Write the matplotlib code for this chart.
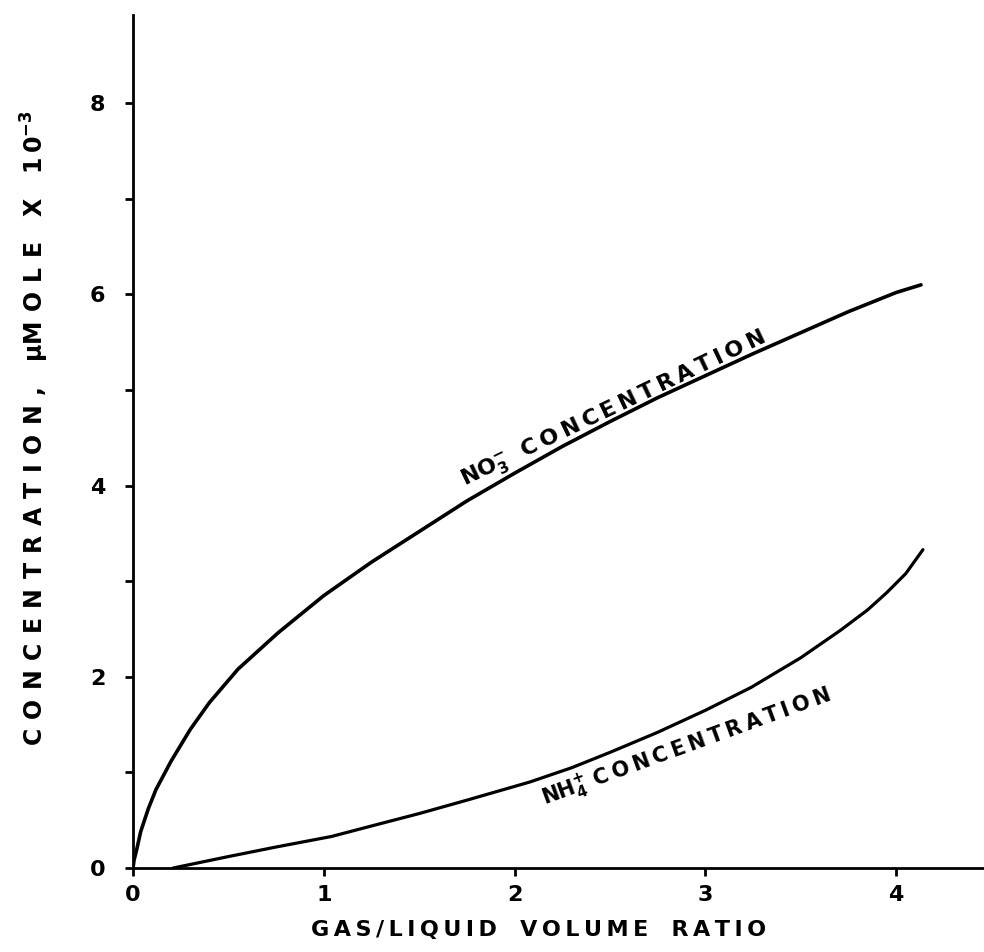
import matplotlib.pyplot as plt

plt.rcParams['font.family'] = 'DejaVu Sans'
plt.rcParams['font.weight'] = 'bold'
plt.rcParams['mathtext.default'] = 'bf'

# curvas
no3_x = [0, 0.005, 0.02, 0.04, 0.08, 0.12, 0.2, 0.3, 0.4, 0.55, 0.76, 1.0, 1.25,
         1.5, 1.75, 2.0, 2.25, 2.5, 2.75, 3.0, 3.25, 3.5, 3.75, 4.0, 4.13]
no3_y = [0, 0.08, 0.2, 0.38, 0.62, 0.82, 1.12, 1.45, 1.73, 2.08, 2.46, 2.85, 3.2,
         3.52, 3.84, 4.13, 4.41, 4.67, 4.92, 5.15, 5.38, 5.6, 5.82, 6.02, 6.1]

nh4_x = [0.21, 0.5, 0.75, 1.04, 1.25, 1.5, 1.75, 2.08, 2.3, 2.5, 2.75, 3.0,
         3.24, 3.5, 3.71, 3.85, 3.95, 4.05, 4.14]
nh4_y = [0, 0.12, 0.22, 0.33, 0.44, 0.57, 0.71, 0.90, 1.05, 1.21, 1.42, 1.65,
         1.89, 2.2, 2.49, 2.7, 2.88, 3.08, 3.33]

x_ticks = [0, 1, 2, 3, 4]
y_ticks = [0, 1, 2, 3, 4, 5, 6, 7, 8]
y_labels = ['0', '', '2', '', '4', '', '6', '', '8']


def espaciar(s, n=1):
    # letras separadas como en el rotulado original
    return ('\u2009' * n).join(s)


fig = plt.figure(figsize=(9.84, 9.52), dpi=100)
ax = fig.add_axes([0.1352, 0.0882, 0.8648, 0.8958])

ax.plot(no3_x, no3_y, color='black', lw=2.6, solid_capstyle='round')
ax.plot(nh4_x, nh4_y, color='black', lw=2.3, solid_capstyle='round')

ax.set_xlim(0, 4.46)
ax.set_ylim(0, 8.92)
ax.spines['top'].set_visible(False)
ax.spines['right'].set_visible(False)
ax.spines['left'].set_linewidth(2)
ax.spines['bottom'].set_linewidth(2)

ax.set_xticks(x_ticks)
ax.set_xticklabels([str(t) for t in x_ticks])
ax.set_yticks(y_ticks)
ax.set_yticklabels(y_labels)
ax.tick_params(axis='both', direction='out', length=6, width=2, labelsize=16, pad=6)
ax.tick_params(axis='y', pad=14)

ax.set_xlabel(espaciar('GAS/LIQUID') + '   ' + espaciar('VOLUME') + '   ' + espaciar('RATIO'),
              fontsize=16, fontweight='bold')
ax.xaxis.set_label_coords(0.477, -0.061)
ax.set_ylabel(espaciar('CONCENTRATION,', 2) + '   ' + r'$\mu$' + espaciar('MOLE', 2) + '   X   '
              + r'1' + '\u2009' + r'0$^{-3}$',
              fontsize=17, fontweight='bold')
ax.yaxis.set_label_coords(-0.096, 0.516)

ax.text(2.52, 4.80, r'NO$_3^{-}$' + '  ' + espaciar('CONCENTRATION'), rotation=25.5,
        rotation_mode='anchor', ha='center', va='center', fontsize=16, fontweight='bold')
ax.text(2.90, 1.26, r'NH$_4^{+}$' + ' ' + espaciar('CONCENTRATION'), rotation=20,
        rotation_mode='anchor', ha='center', va='center', fontsize=15, fontweight='bold')

plt.savefig('out.png', dpi=100)
